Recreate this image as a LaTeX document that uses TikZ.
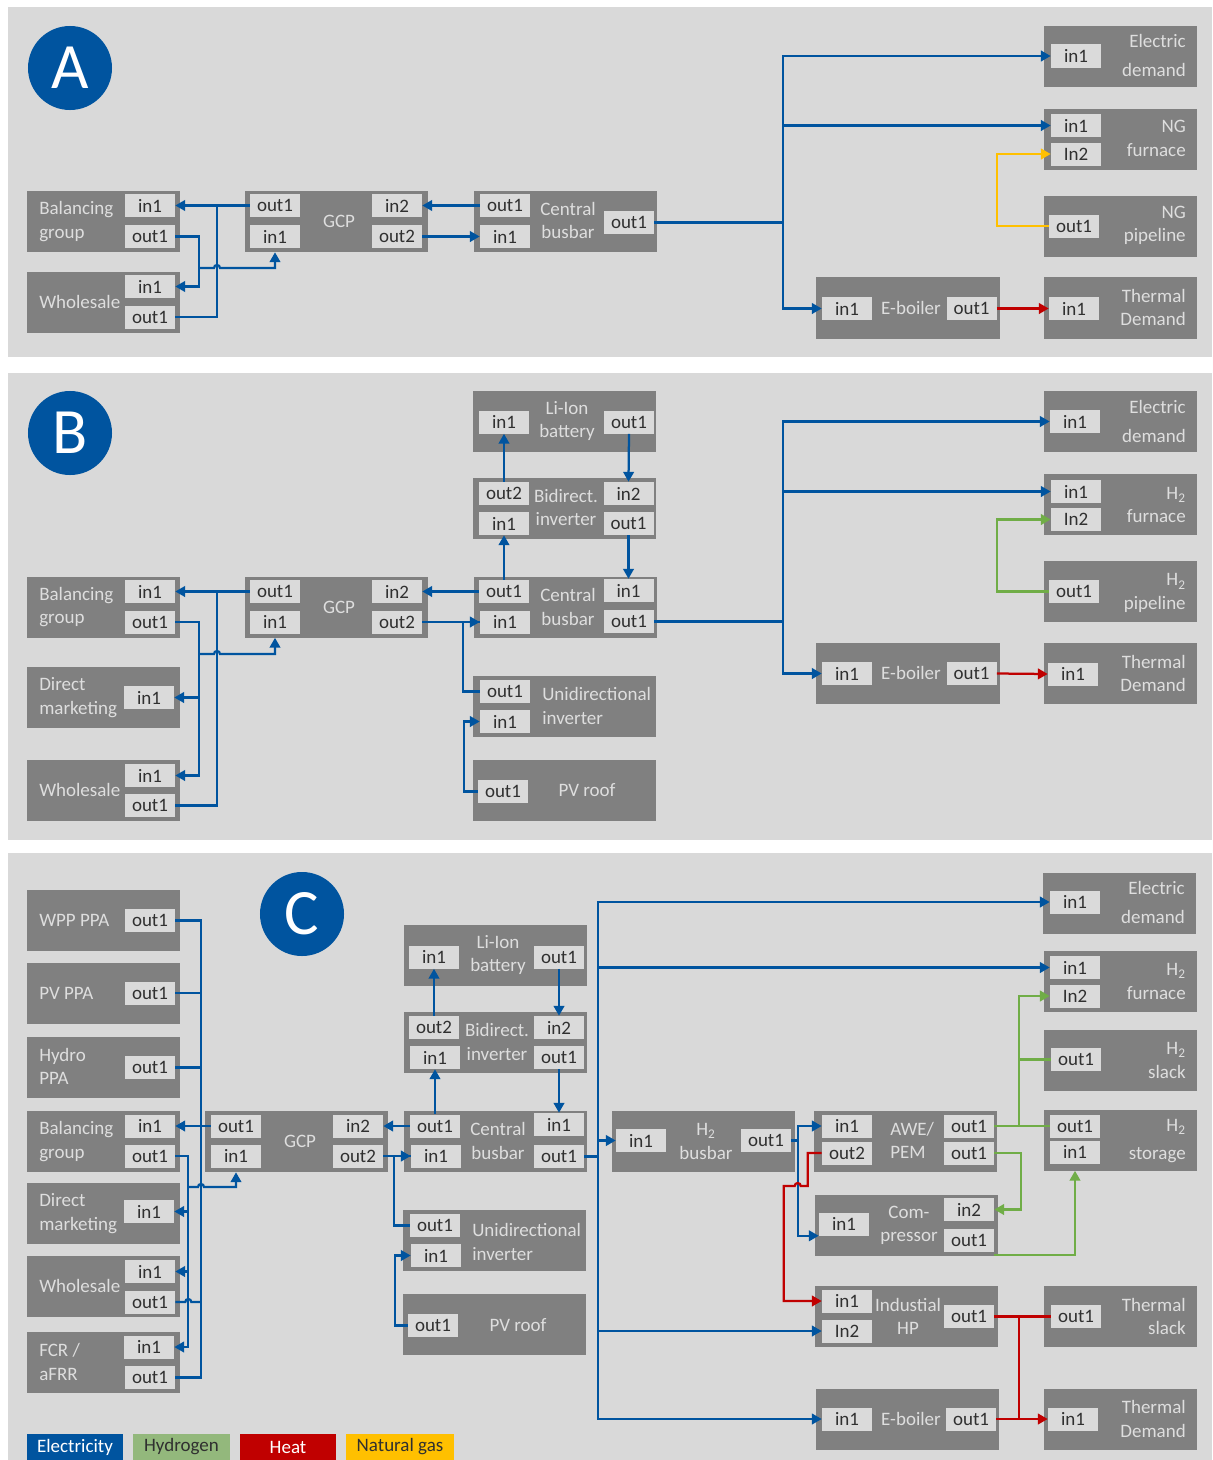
\documentclass[tikz,border=0pt]{standalone}
\usepackage{fontspec}
\setmainfont{Carlito}
\usepackage{tikz}
\usetikzlibrary{arrows.meta, positioning, calc}

\definecolor{elecblue}{HTML}{00549F}
\definecolor{hydgreen}{HTML}{70AD47}
\definecolor{heatred}{HTML}{C00000}
\definecolor{gasyellow}{HTML}{FFC000}
\definecolor{panelgray}{HTML}{D9D9D9}
\definecolor{blockgray}{HTML}{808080}
\definecolor{portgray}{HTML}{DADADA}
\definecolor{porttext}{HTML}{303030}
\definecolor{blocktext}{HTML}{DEDEDE}
\definecolor{hydlegend}{HTML}{93B87C}
\newcommand{\diagfont}{\fontsize{13.5}{16.5}\selectfont}

\begin{document}
\begin{tikzpicture}[x=0.025cm, y=-0.025cm,
    >={Triangle[length=7pt, width=7.5pt]},
    panel/.style={fill=panelgray},
    blk/.style={rectangle, fill=blockgray, inner sep=0pt, minimum height=1.525cm},
    sblk/.style={blk, minimum width=3.825cm},
    wblk/.style={blk, minimum width=4.575cm},
    port/.style={rectangle, fill=portgray, text=porttext, inner sep=0pt, minimum width=1.25cm, minimum height=0.575cm, font=\diagfont},
    txt/.style={text=blocktext, inner sep=0pt, font=\diagfont},
    badge/.style={circle, fill=elecblue, text=white, inner sep=0pt, minimum size=2.1cm, font=\fontsize{46}{46}\selectfont},
    legend/.style={rectangle, inner sep=0pt, minimum height=0.65cm, font=\diagfont},
    elec/.style={draw=elecblue, line width=1.6pt},
    hyd/.style={draw=hydgreen, line width=1.6pt},
    heat/.style={draw=heatred, line width=1.6pt},
    gas/.style={draw=gasyellow, line width=1.6pt}]

    \fill[white] (0,0) rectangle (1212,1460);
    \useasboundingbox (0,0) rectangle (1212,1460);

    % ---------------- panel A ----------------
    \fill[panel] (8,7) rectangle (1212,357);
    \node[badge] (badgeA) at (70,68) {A};

    \node[sblk] (balA) at (103.5,221.5) {};
    \node[txt, anchor=west, align=left] (balAtxt) at (39,221.5) {Balancing\\group};
    \node[port] (balAi1) at (150,205.5) {in1};
    \node[port] (balAo1) at (150,236.5) {out1};

    \node[sblk] (wsA) at (103.5,302.5) {};
    \node[txt, anchor=west] (wsAtxt) at (39,302) {Wholesale};
    \node[port] (wsAi1) at (150,286.5) {in1};
    \node[port] (wsAo1) at (150,317) {out1};

    \node[wblk] (gcpA) at (336.5,221.5) {};
    \node[txt] (gcpAtxt) at (339,221) {GCP};
    \node[port] (gcpAo1) at (275,205.5) {out1};
    \node[port] (gcpAi1) at (275,236.5) {in1};
    \node[port] (gcpAi2) at (397,205.5) {in2};
    \node[port] (gcpAo2) at (397,236.5) {out2};

    \node[wblk] (cbA) at (565.5,221.5) {};
    \node[txt, align=center] (cbAtxt) at (568,220.5) {Central\\busbar};
    \node[port] (cbAo1) at (505,205.5) {out1};
    \node[port] (cbAi1) at (505,236.5) {in1};
    \node[port] (cbAoR) at (629,222.5) {out1};

    \node[sblk] (edA) at (1120.5,56.5) {};
    \node[txt, anchor=east, align=right] (edAtxt) at (1186,55.5) {Electric\\[4.5pt]demand};
    \node[port] (edAi1) at (1076,56) {in1};

    \node[sblk] (ngfA) at (1120.5,139.5) {};
    \node[txt, anchor=east, align=right] (ngfAtxt) at (1186,138.5) {NG\\furnace};
    \node[port] (ngfAi1) at (1076,125.5) {in1};
    \node[port] (ngfAi2) at (1076,154) {In2};

    \node[sblk] (ngpA) at (1120.5,226.5) {};
    \node[txt, anchor=east, align=right] (ngpAtxt) at (1186,225.5) {NG\\pipeline};
    \node[port] (ngpAo1) at (1074,226) {out1};

    \node[wblk] (ebA) at (908,308) {};
    \node[txt] (ebAtxt) at (911,308) {E-boiler};
    \node[port] (ebAi1) at (847,308.5) {in1};
    \node[port] (ebAo1) at (971.5,308.5) {out1};

    \node[sblk] (tdA) at (1120.5,308) {};
    \node[txt, anchor=east, align=right] (tdAtxt) at (1186,307.5) {Thermal\\Demand};
    \node[port] (tdAi1) at (1074,308.5) {in1};

    \coordinate (jA) at (199,268);
    \draw[elec,->] (gcpAo1.west) -- (balAi1.east);
    \draw[elec] (wsAo1.east) -- ++(42,0) |- (gcpAo1.west);
    \draw[elec,->] (balAo1.east) -- ++(24,0) |- (wsAi1.east);
    \draw[elec,->] (jA) -- ++(15,0) arc[start angle=180, end angle=360, radius=3] -| (gcpAi1 |- gcpA.south);
    \draw[elec,->] (cbAo1.west) -- (gcpAi2.east);
    \draw[elec,->] (gcpAo2.east) -- (cbAi1.west);
    \draw[elec,->] (cbAoR.east) -- ++(129,0) |- (edAi1.west);
    \draw[elec,->] (cbAoR.east) -- ++(129,0) |- (ngfAi1.west);
    \draw[elec,->] (cbAoR.east) -- ++(129,0) |- (ebAi1.west);
    \draw[gas,->] (ngpAo1.west) -- ++(-52,0) |- (ngfAi2.west);
    \draw[heat,->] (ebAo1.east) -- (tdAi1.west);

    % ---------------- panel B ----------------
    \fill[panel] (8,373) rectangle (1212,840);
    \node[badge] (badgeB) at (70,433) {B};

    \node[sblk] (balB) at (103.5,607) {};
    \node[txt, anchor=west, align=left] (balBtxt) at (39,607) {Balancing\\group};
    \node[port] (balBi1) at (150,591.5) {in1};
    \node[port] (balBo1) at (150,622) {out1};

    \node[sblk] (dmB) at (103.5,697.5) {};
    \node[txt, anchor=west, align=left] (dmBtxt) at (39,697.5) {Direct\\marketing};
    \node[port] (dmBi1) at (149,697.5) {in1};

    \node[sblk] (wsB) at (103.5,790.5) {};
    \node[txt, anchor=west] (wsBtxt) at (39,790) {Wholesale};
    \node[port] (wsBi1) at (150,775.5) {in1};
    \node[port] (wsBo1) at (150,805.5) {out1};

    \node[wblk] (gcpB) at (336.5,607) {};
    \node[txt] (gcpBtxt) at (339,607) {GCP};
    \node[port] (gcpBo1) at (275,591.5) {out1};
    \node[port] (gcpBi1) at (275,622) {in1};
    \node[port] (gcpBi2) at (397,591.5) {in2};
    \node[port] (gcpBo2) at (397,622) {out2};

    \node[wblk] (libB) at (564.5,421.5) {};
    \node[txt, align=center] (libBtxt) at (567,421) {Li-Ion\\battery};
    \node[port] (libBi1) at (504,422) {in1};
    \node[port] (libBo1) at (629,422) {out1};

    \node[wblk] (biB) at (564.5,508.5) {};
    \node[txt, align=center] (biBtxt) at (566,507.5) {Bidirect.\\inverter};
    \node[port] (biBo2) at (504,493.5) {out2};
    \node[port] (biBi1) at (504,523.5) {in1};
    \node[port] (biBi2) at (628.5,493.5) {in2};
    \node[port] (biBo1) at (628.5,523.5) {out1};

    \node[wblk] (cbB) at (565.5,607.5) {};
    \node[txt, align=center] (cbBtxt) at (568,607) {Central\\busbar};
    \node[port] (cbBo1) at (504,591.5) {out1};
    \node[port] (cbBi1) at (505,622) {in1};
    \node[port] (cbBi1R) at (628.5,590.5) {in1};
    \node[port] (cbBoR) at (629,621.5) {out1};

    \node[wblk] (uiB) at (564.5,706.5) {};
    \node[txt, anchor=west, align=left] (uiBtxt) at (542,706) {Unidirectional\\inverter};
    \node[port] (uiBo1) at (505,691.5) {out1};
    \node[port] (uiBi1) at (505,721.5) {in1};

    \node[wblk] (pvB) at (564.5,790.5) {};
    \node[txt] (pvBtxt) at (587,790) {PV roof};
    \node[port] (pvBo1) at (503,791.5) {out1};

    \node[sblk] (edB) at (1120.5,421.5) {};
    \node[txt, anchor=east, align=right] (edBtxt) at (1186,421.5) {Electric\\[4.5pt]demand};
    \node[port] (edBi1) at (1075,421.5) {in1};

    \node[sblk] (h2fB) at (1120.5,504.5) {};
    \node[txt, anchor=east, align=right] (h2fBtxt) at (1186,505) {H\textsubscript{2}\\furnace};
    \node[port] (h2fBi1) at (1076,491.5) {in1};
    \node[port] (h2fBi2) at (1076,519.5) {In2};

    \node[sblk] (h2pB) at (1120.5,591.5) {};
    \node[txt, anchor=east, align=right] (h2pBtxt) at (1186,593) {H\textsubscript{2}\\pipeline};
    \node[port] (h2pBo1) at (1074,591.5) {out1};

    \node[wblk] (ebB) at (908,673) {};
    \node[txt] (ebBtxt) at (911,673) {E-boiler};
    \node[port] (ebBi1) at (847,673.5) {in1};
    \node[port] (ebBo1) at (971.5,673.5) {out1};

    \node[sblk] (tdB) at (1120.5,673.5) {};
    \node[txt, anchor=east, align=right] (tdBtxt) at (1186,673.5) {Thermal\\Demand};
    \node[port] (tdBi1) at (1073,674) {in1};

    \coordinate (jB) at (199,654);
    \draw[elec,->] (gcpBo1.west) -- (balBi1.east);
    \draw[elec] (wsBo1.east) -- ++(42,0) |- (gcpBo1.west);
    \draw[elec,->] (balBo1.east) -- ++(24,0) |- (wsBi1.east);
    \draw[elec,->] (balBo1.east) -- ++(24,0) |- (dmBi1.east);
    \draw[elec,->] (jB) -- ++(15,0) arc[start angle=180, end angle=360, radius=3] -| (gcpBi1 |- gcpB.south);
    \draw[elec,->] (cbBo1.west) -- (gcpBi2.east);
    \draw[elec,->] (gcpBo2.east) -- (cbBi1.west);
    \draw[elec] (uiBo1.west) -- ++(-17,0) |- (cbBi1.west);
    \draw[elec,->] (pvBo1.west) -- ++(-14,0) |- (uiBi1.west);
    \draw[elec,->] (biBo2.north) -- (libBi1.south);
    \draw[elec,->] (libBo1.south) -- (biBi2.north);
    \draw[elec,->] (cbBo1.north) -- (biBi1.south);
    \draw[elec,->] (biBo1.south) -- (cbBi1R.north);
    \draw[elec,->] (cbBoR.east) -- ++(129,0) |- (edBi1.west);
    \draw[elec,->] (cbBoR.east) -- ++(129,0) |- (h2fBi1.west);
    \draw[elec,->] (cbBoR.east) -- ++(129,0) |- (ebBi1.west);
    \draw[hyd,->] (h2pBo1.west) -- ++(-52,0) |- (h2fBi2.west);
    \draw[heat,->] (ebBo1.east) -- (tdBi1.west);

    % ---------------- panel C ----------------
    \fill[panel] (8,853) rectangle (1212,1460);
    \node[badge] (badgeC) at (302,914) {C};

    \node[sblk] (wppC) at (103.5,920.5) {};
    \node[txt, anchor=west] (wppCtxt) at (39,920) {WPP PPA};
    \node[port] (wppCo1) at (150,920.5) {out1};

    \node[sblk] (pvpC) at (103.5,993.5) {};
    \node[txt, anchor=west] (pvpCtxt) at (39,993) {PV PPA};
    \node[port] (pvpCo1) at (150,993) {out1};

    \node[sblk] (hyC) at (103.5,1067) {};
    \node[txt, anchor=west, align=left] (hyCtxt) at (39,1066.5) {Hydro\\PPA};
    \node[port] (hyCo1) at (150,1067.5) {out1};

    \node[sblk] (balC) at (103.5,1141.5) {};
    \node[txt, anchor=west, align=left] (balCtxt) at (39,1141.5) {Balancing\\group};
    \node[port] (balCi1) at (150,1126) {in1};
    \node[port] (balCo1) at (150,1156) {out1};

    \node[sblk] (dmC) at (103.5,1213.5) {};
    \node[txt, anchor=west, align=left] (dmCtxt) at (39,1213.5) {Direct\\marketing};
    \node[port] (dmCi1) at (149,1211.5) {in1};

    \node[sblk] (wsC) at (103.5,1286.5) {};
    \node[txt, anchor=west] (wsCtxt) at (39,1286) {Wholesale};
    \node[port] (wsCi1) at (150,1271.5) {in1};
    \node[port] (wsCo1) at (150,1302) {out1};

    \node[sblk] (fcrC) at (103.5,1362.5) {};
    \node[txt, anchor=west, align=left] (fcrCtxt) at (39,1362) {FCR /\\aFRR};
    \node[port] (fcrCi1) at (149,1347) {in1};
    \node[port] (fcrCo1) at (150,1377.5) {out1};

    \node[wblk] (gcpC) at (296.5,1141.5) {};
    \node[txt] (gcpCtxt) at (300,1141) {GCP};
    \node[port] (gcpCo1) at (236,1126) {out1};
    \node[port] (gcpCi1) at (236,1156) {in1};
    \node[port] (gcpCi2) at (358,1126) {in2};
    \node[port] (gcpCo2) at (358,1156) {out2};

    \node[wblk] (libC) at (495.5,955.5) {};
    \node[txt, align=center] (libCtxt) at (498,955) {Li-Ion\\battery};
    \node[port] (libCi1) at (434,957) {in1};
    \node[port] (libCo1) at (559,957) {out1};

    \node[wblk] (biC) at (495.5,1042.5) {};
    \node[txt, align=center] (biCtxt) at (497,1042) {Bidirect.\\inverter};
    \node[port] (biCo2) at (434,1027.5) {out2};
    \node[port] (biCi1) at (435,1057.5) {in1};
    \node[port] (biCi2) at (559,1027.5) {in2};
    \node[port] (biCo1) at (559,1057.5) {out1};

    \node[wblk] (cbC) at (495.5,1141.5) {};
    \node[txt, align=center] (cbCtxt) at (498,1141) {Central\\busbar};
    \node[port] (cbCo1) at (435,1126) {out1};
    \node[port] (cbCi1) at (436,1156) {in1};
    \node[port] (cbCi1R) at (559,1124.5) {in1};
    \node[port] (cbCoR) at (559,1156.5) {out1};

    \node[wblk] (uiC) at (494.5,1240.5) {};
    \node[txt, anchor=west, align=left] (uiCtxt) at (472,1242) {Unidirectional\\inverter};
    \node[port] (uiCo1) at (435,1225.5) {out1};
    \node[port] (uiCi1) at (436,1255.5) {in1};

    \node[wblk] (pvC) at (494.5,1324.5) {};
    \node[txt] (pvCtxt) at (518,1325) {PV roof};
    \node[port] (pvCo1) at (433,1325.5) {out1};

    \node[wblk] (h2bC) at (703.5,1141.5) {};
    \node[txt, align=center] (h2bCtxt) at (706,1141.5) {H\textsubscript{2}\\busbar};
    \node[port] (h2bCi1) at (641,1140.5) {in1};
    \node[port] (h2bCo1) at (766,1140.5) {out1};

    \node[wblk] (aweC) at (905.5,1141.5) {};
    \node[txt, anchor=west, align=left] (aweCtxt) at (890,1140.5) {AWE/\\PEM};
    \node[port] (aweCi1) at (847,1126) {in1};
    \node[port] (aweCo2) at (847,1153) {out2};
    \node[port] (aweCo1) at (969,1126) {out1};
    \node[port] (aweCo1b) at (969,1153) {out1};

    \node[wblk] (cpC) at (906.5,1225.5) {};
    \node[txt, align=center] (cpCtxt) at (909,1225) {Com-\\pressor};
    \node[port] (cpCi1) at (844,1224) {in1};
    \node[port] (cpCi2) at (969,1209.5) {in2};
    \node[port] (cpCo1) at (969,1240) {out1};

    \node[wblk] (hpC) at (906.5,1316.5) {};
    \node[txt, align=center] (hpCtxt) at (908,1316.5) {Industial\\HP};
    \node[port] (hpCi1) at (847,1301) {in1};
    \node[port] (hpCi2) at (847,1331) {In2};
    \node[port] (hpCo1) at (969,1316.5) {out1};

    \node[wblk] (ebC) at (907.5,1419) {};
    \node[txt] (ebCtxt) at (911,1419) {E-boiler};
    \node[port] (ebCi1) at (847,1419) {in1};
    \node[port] (ebCo1) at (971,1419) {out1};

    \node[sblk] (edC) at (1119.5,903.5) {};
    \node[txt, anchor=east, align=right] (edCtxt) at (1185,902.5) {Electric\\[4.5pt]demand};
    \node[port] (edCi1) at (1075,902) {in1};

    \node[sblk] (h2fC) at (1120.5,981) {};
    \node[txt, anchor=east, align=right] (h2fCtxt) at (1186,981.5) {H\textsubscript{2}\\furnace};
    \node[port] (h2fCi1) at (1075,967.5) {in1};
    \node[port] (h2fCi2) at (1075,996) {In2};

    \node[sblk] (h2slC) at (1120.5,1060) {};
    \node[txt, anchor=east, align=right] (h2slCtxt) at (1186,1060.5) {H\textsubscript{2}\\slack};
    \node[port] (h2slCo1) at (1076,1059.5) {out1};

    \node[sblk] (h2stC) at (1120.5,1140) {};
    \node[txt, anchor=east, align=right] (h2stCtxt) at (1186,1141) {H\textsubscript{2}\\[3pt]storage};
    \node[port] (h2stCo1) at (1075,1126) {out1};
    \node[port] (h2stCi1) at (1075,1152) {in1};

    \node[sblk] (tsC) at (1120.5,1316.5) {};
    \node[txt, anchor=east, align=right] (tsCtxt) at (1186,1316.5) {Thermal\\slack};
    \node[port] (tsCo1) at (1076,1316.5) {out1};

    \node[sblk] (tdC) at (1120.5,1419) {};
    \node[txt, anchor=east, align=right] (tdCtxt) at (1186,1419) {Thermal\\Demand};
    \node[port] (tdCi1) at (1073,1419) {in1};

    % markets and GCP
    \coordinate (jC) at (188,1187);
    \draw[elec,->] (gcpCo1.west) -- (balCi1.east);
    \draw[elec] (wppCo1.east) -- ++(26,0) |- (fcrCo1.east);
    \draw[elec] (pvpCo1.east) -- ++(26,0);
    \draw[elec] (hyCo1.east) -- ++(26,0);
    \draw[elec] (wsCo1.east) -- ++(10,0) arc[start angle=180, end angle=360, radius=3] -- ++(10,0);
    \draw[elec,->] (balCo1.east) -- ++(13,0) |- (fcrCi1.east);
    \draw[elec,->] (balCo1.east) -- ++(13,0) |- (dmCi1.east);
    \draw[elec,->] (balCo1.east) -- ++(13,0) |- (wsCi1.east);
    \draw[elec,->] (jC) -- ++(10,0) arc[start angle=180, end angle=360, radius=3] -| (gcpCi1 |- gcpC.south);
    \draw[elec,->] (cbCo1.west) -- (gcpCi2.east);
    \draw[elec,->] (gcpCo2.east) -- (cbCi1.west);
    \draw[elec] (uiCo1.west) -- ++(-16,0) |- (cbCi1.west);
    \draw[elec,->] (pvCo1.west) -- ++(-13,0) |- (uiCi1.west);
    \draw[elec,->] (biCo2.north) -- (libCi1.south);
    \draw[elec,->] (libCo1.south) -- (biCi2.north);
    \draw[elec,->] (cbCo1.north) -- (biCi1.south);
    \draw[elec,->] (biCo1.south) -- (cbCi1R.north);
    % central busbar to consumers
    \draw[elec,->] (cbCoR.east) -- ++(14,0) |- (edCi1.west);
    \draw[elec,->] (cbCoR.east) -- ++(14,0) |- (h2fCi1.west);
    \draw[elec,->] (cbCoR.east) -- ++(14,0) |- (h2bCi1.west);
    \draw[elec,->] (cbCoR.east) -- ++(14,0) |- (hpCi2.west);
    \draw[elec,->] (cbCoR.east) -- ++(14,0) |- (ebCi1.west);
    \draw[elec,->] (h2bCo1.east) -- ++(7,0) |- (aweCi1.west);
    \draw[elec,->] (h2bCo1.east) -- ++(7,0) |- (cpCi1.south west);
    % hydrogen
    \draw[hyd] (aweCo1.east) -- (h2stCo1.west);
    \draw[hyd,->] (aweCo1.east) -- ++(25,0) |- (h2fCi2.west);
    \draw[hyd] (h2slCo1.west) -- ++(-32,0);
    \draw[hyd,->] (aweCo1b.east) -- ++(27,0) |- (cpCi2.east);
    \draw[hyd,->] (cpCo1.south east) ++(0,3) -| (h2stCi1 |- h2stC.south);
    % heat
    \draw[heat,->] (aweCo2.west) -- ++(-14,0) -- ++(0,33) -- ++(-7,0) arc[start angle=0, end angle=-180, radius=3] -- ++(-11,0) |- (hpCi1.west);
    \draw[heat] (hpCo1.east) -- (tsCo1.west);
    \draw[heat,->] (hpCo1.east) -- ++(25,0) |- (tdCi1.west);
    \draw[heat] (ebCo1.east) -- ++(23,0);

    % legend
    \node[legend, fill=elecblue, text=white, minimum width=2.4cm] (legElec) at (75,1447) {Electricity};
    \node[legend, fill=hydlegend, text=porttext, minimum width=2.425cm] (legHyd) at (181.5,1447) {Hydrogen};
    \node[legend, fill=heatred, text=white, minimum width=2.4cm] (legHeat) at (288,1447) {Heat};
    \node[legend, fill=gasyellow, text=porttext, minimum width=2.7cm] (legGas) at (400,1447) {Natural gas};
\end{tikzpicture}
\end{document}
